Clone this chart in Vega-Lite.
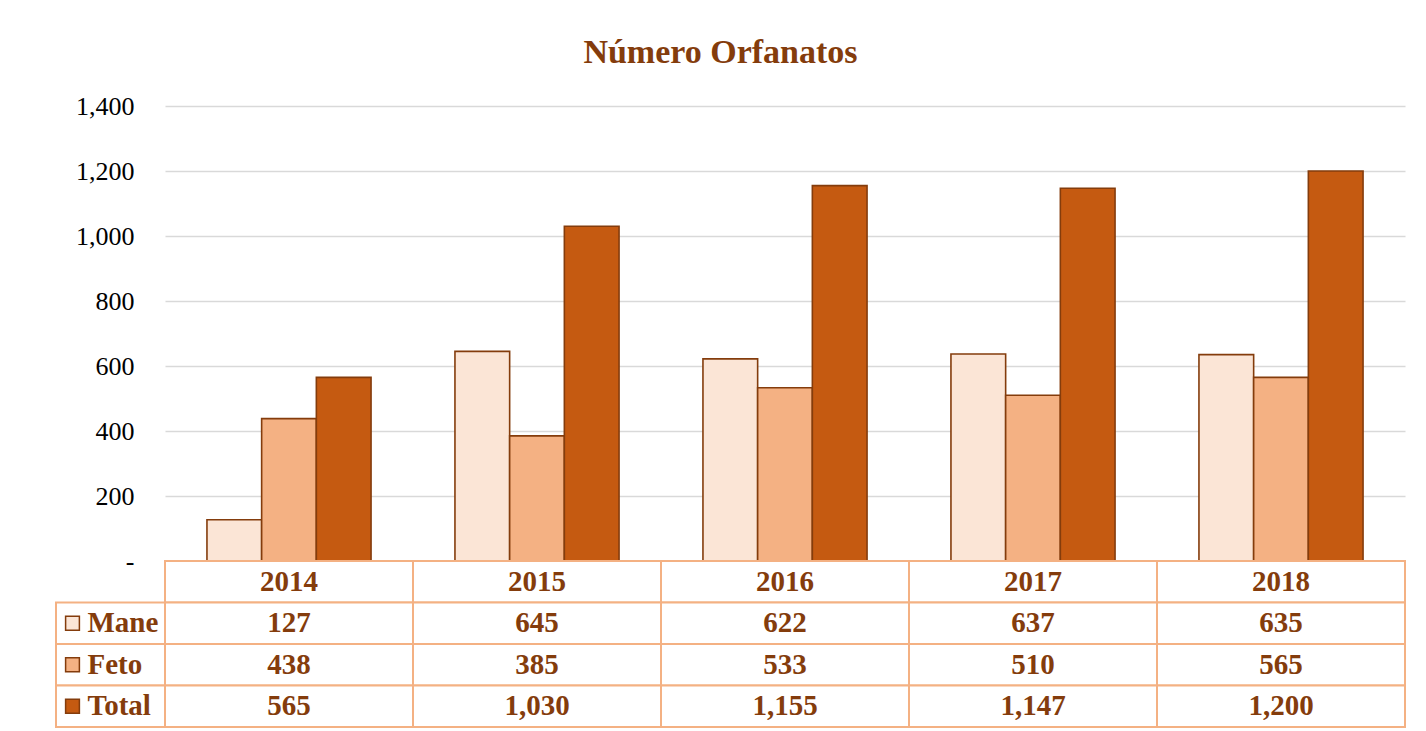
{
  "$schema": "https://vega.github.io/schema/vega-lite/v6.json",
  "padding": {"left": 55, "top": 36, "right": 20, "bottom": 5},
  "background": "white",
  "title": {
    "text": "Número Orfanatos",
    "font": "Liberation Serif",
    "fontSize": 34,
    "fontWeight": "bold",
    "color": "#843C0C",
    "anchor": "middle",
    "dx": -10,
    "offset": 23
  },
  "config": {
    "view": {"stroke": null},
    "concat": {"spacing": 0}
  },
  "datasets": {
    "d": [
      {"year": "2014", "Mane": 127, "Feto": 438, "Total": 565},
      {"year": "2015", "Mane": 645, "Feto": 385, "Total": 1030},
      {"year": "2016", "Mane": 622, "Feto": 533, "Total": 1155},
      {"year": "2017", "Mane": 637, "Feto": 510, "Total": 1147},
      {"year": "2018", "Mane": 635, "Feto": 565, "Total": 1200}
    ],
    "series": [
      {"serie": "Mane"},
      {"serie": "Feto"},
      {"serie": "Total"}
    ]
  },
  "columns": 2,
  "bounds": "flush",
  "spacing": 0,
  "concat": [
    {
      "width": 109,
      "height": 455,
      "data": {"values": []},
      "mark": "text",
      "encoding": {}
    },
    {
      "width": 1240,
      "height": 455,
      "data": {"name": "d"},
      "transform": [{"fold": ["Mane", "Feto", "Total"], "as": ["serie", "valor"]}],
      "mark": {"type": "bar", "stroke": "#843C0C", "strokeWidth": 1.6},
      "encoding": {
        "x": {"field": "year", "type": "nominal", "scale": {"paddingInner": 0, "paddingOuter": 0}, "axis": null},
        "xOffset": {"field": "serie", "type": "nominal", "sort": ["Mane", "Feto", "Total"], "scale": {"paddingInner": 0, "paddingOuter": 0.767}},
        "y": {
          "field": "valor",
          "type": "quantitative",
          "scale": {"domain": [0, 1400], "nice": false},
          "axis": {
            "title": null,
            "values": [0, 200, 400, 600, 800, 1000, 1200, 1400],
            "labelExpr": "datum.value == 0 ? '-\u2002' : format(datum.value, ',')",
            "labelFont": "Liberation Serif",
            "labelFontSize": 26,
            "labelColor": "#000000",
            "labelPadding": 31,
            "ticks": false,
            "domain": false,
            "grid": true,
            "gridColor": "#D9D9D9",
            "gridWidth": 1.6
          }
        },
        "color": {
          "field": "serie",
          "type": "nominal",
          "scale": {"domain": ["Mane", "Feto", "Total"], "range": ["#FBE5D6", "#F4B183", "#C55A11"]},
          "legend": null
        }
      }
    },
    {
      "width": 109,
      "height": 166,
      "data": {"name": "series"},
      "encoding": {
        "y": {"field": "serie", "type": "nominal", "scale": {"domain": ["Year", "Mane", "Feto", "Total"], "paddingInner": 0, "paddingOuter": 0}, "axis": null}
      },
      "layer": [
        {"mark": {"type": "rect", "fill": "white", "stroke": "#F4B183", "strokeWidth": 2}},
        {
          "mark": {"type": "point", "shape": "square", "filled": true, "size": 190, "stroke": "#843C0C", "strokeWidth": 1.5, "opacity": 1, "xOffset": -38},
          "encoding": {
            "color": {"field": "serie", "type": "nominal", "scale": {"domain": ["Mane", "Feto", "Total"], "range": ["#FBE5D6", "#F4B183", "#C55A11"]}, "legend": null}
          }
        },
        {
          "mark": {"type": "text", "align": "left", "baseline": "middle", "dx": -23, "font": "Liberation Serif", "fontSize": 29, "fontWeight": "bold", "color": "#843C0C"},
          "encoding": {"text": {"field": "serie"}}
        }
      ]
    },
    {
      "width": 1240,
      "height": 166,
      "data": {"name": "d"},
      "layer": [
        {
          "mark": {"type": "rect", "fill": "white", "stroke": "#F4B183", "strokeWidth": 2},
          "encoding": {
            "x": {"field": "year", "type": "nominal", "scale": {"paddingInner": 0, "paddingOuter": 0}, "axis": null},
            "y": {"datum": "Year", "type": "nominal", "scale": {"domain": ["Year", "Mane", "Feto", "Total"], "paddingInner": 0, "paddingOuter": 0}, "axis": null}
          }
        },
        {
          "transform": [{"fold": ["Mane", "Feto", "Total"], "as": ["serie", "valor"]}],
          "mark": {"type": "rect", "fill": "white", "stroke": "#F4B183", "strokeWidth": 2},
          "encoding": {
            "x": {"field": "year", "type": "nominal", "axis": null},
            "y": {"field": "serie", "type": "nominal", "axis": null}
          }
        },
        {
          "mark": {"type": "text", "baseline": "middle", "font": "Liberation Serif", "fontSize": 29, "fontWeight": "bold", "color": "#843C0C"},
          "encoding": {
            "x": {"field": "year", "type": "nominal", "axis": null},
            "y": {"datum": "Year", "type": "nominal", "axis": null},
            "text": {"field": "year"}
          }
        },
        {
          "transform": [{"fold": ["Mane", "Feto", "Total"], "as": ["serie", "valor"]}],
          "mark": {"type": "text", "baseline": "middle", "font": "Liberation Serif", "fontSize": 29, "fontWeight": "bold", "color": "#843C0C"},
          "encoding": {
            "x": {"field": "year", "type": "nominal", "axis": null},
            "y": {"field": "serie", "type": "nominal", "axis": null},
            "text": {"field": "valor", "type": "quantitative", "format": ","}
          }
        }
      ]
    }
  ]
}
